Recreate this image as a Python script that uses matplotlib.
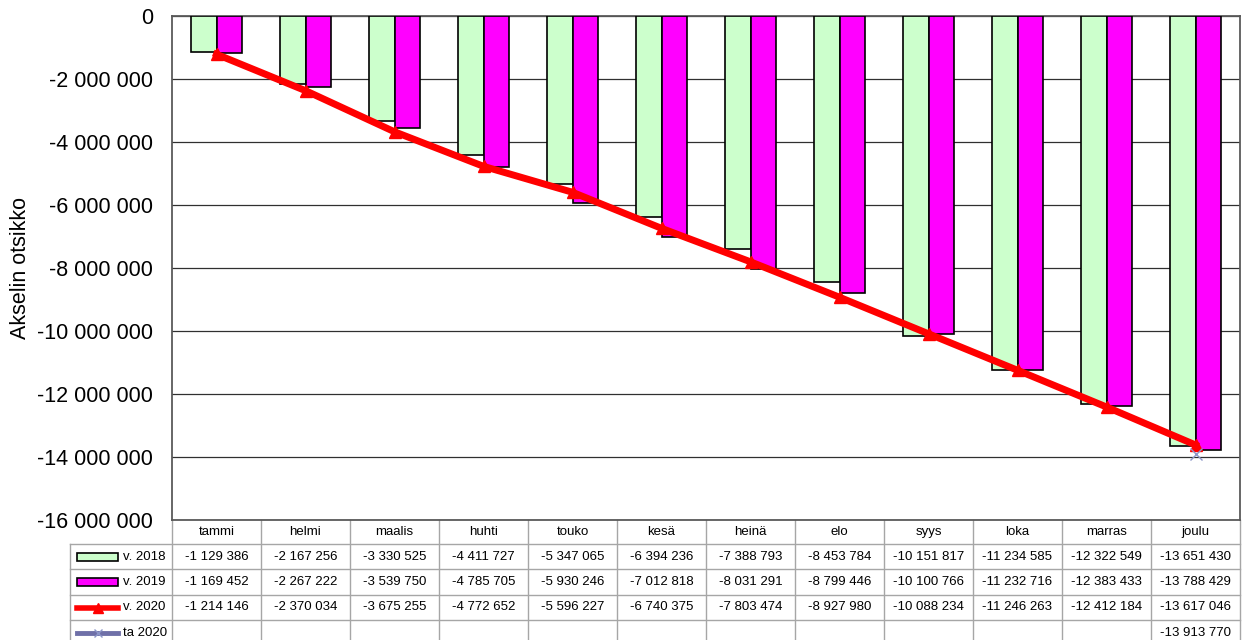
import matplotlib
matplotlib.use("Agg")
import matplotlib.pyplot as plt
from matplotlib.patches import Rectangle
from matplotlib.lines import Line2D
from matplotlib.ticker import FuncFormatter
import numpy as np

plt.rcParams['font.family'] = ['Liberation Sans', 'DejaVu Sans']

months = ["tammi", "helmi", "maalis", "huhti", "touko", "kesä", "heinä",
          "elo", "syys", "loka", "marras", "joulu"]
v2018 = [-1129386, -2167256, -3330525, -4411727, -5347065, -6394236,
         -7388793, -8453784, -10151817, -11234585, -12322549, -13651430]
v2019 = [-1169452, -2267222, -3539750, -4785705, -5930246, -7012818,
         -8031291, -8799446, -10100766, -11232716, -12383433, -13788429]
v2020 = [-1214146, -2370034, -3675255, -4772652, -5596227, -6740375,
         -7803474, -8927980, -10088234, -11246263, -12412184, -13617046]
ta2020 = [None] * 11 + [-13913770]
series_names = ["v. 2018", "v. 2019", "v. 2020", "ta 2020"]
y_ticks = list(range(0, -16000001, -2000000))
y_label = "Akselin otsikko"

W, H = 1242, 640
fig = plt.figure(figsize=(W / 100, H / 100), dpi=100)
L, R, T, B = 172, 1240, 16, 520
ax = fig.add_axes([L / W, 1 - B / H, (R - L) / W, (B - T) / H])

def pxx(p):
    return (p - L) / (R - L)

def pxy(p):
    return (B - p) / (B - T)

x = np.arange(len(months))
bw = 0.29
ax.bar(x - bw / 2, v2018, width=bw, color="#ccffcc", edgecolor="black",
       linewidth=1.2, zorder=3)
ax.bar(x + bw / 2, v2019, width=bw, color="#ff00ff", edgecolor="black",
       linewidth=1.2, zorder=3)
ax.plot(x, v2020, color="#ff0000", linewidth=5, marker="^", markersize=9,
        zorder=5)
ta_x = [i for i, v in enumerate(ta2020) if v is not None]
ta_y = [v for v in ta2020 if v is not None]
ax.plot(ta_x, ta_y, linestyle="none", marker="x", markersize=8,
        color="#8c96c8", markeredgewidth=1.0, zorder=6)

ax.set_xlim(-0.5, len(months) - 0.5)
ax.set_ylim(-16000000, 0)
ax.set_yticks(y_ticks)
ax.yaxis.set_major_formatter(FuncFormatter(
    lambda v, p: f"{int(v):,}".replace(",", " ")))
ax.set_xticks([])
ax.tick_params(axis="y", length=0, pad=13.5, labelsize=15.5)
ax.grid(axis="y", color="#303030", linewidth=0.9, zorder=0)
for s in ax.spines.values():
    s.set_color("#5a5a5a")
    s.set_linewidth(1.3)

ax.text(pxx(21), 0.5, y_label, rotation=90, ha="center", va="center",
        fontsize=15.5, transform=ax.transAxes)

# data table
tcol = "#a6a6a6"
fs = 9.5
rows_y = [520, 544, 569, 595, 620, 646]
leg_left = 70
tr = ax.transAxes
for yy in rows_y[1:]:
    ax.add_line(Line2D([pxx(leg_left), 1], [pxy(yy), pxy(yy)], color=tcol,
                       linewidth=1, transform=tr, clip_on=False))
for i in range(len(months) + 1):
    xx = i / len(months)
    ax.add_line(Line2D([xx, xx], [pxy(rows_y[0]), pxy(rows_y[-1])],
                       color=tcol, linewidth=1, transform=tr, clip_on=False))
ax.add_line(Line2D([pxx(leg_left)] * 2, [pxy(rows_y[1]), pxy(rows_y[-1])],
                   color=tcol, linewidth=1, transform=tr, clip_on=False))

for i, m in enumerate(months):
    cx = (i + 0.5) / len(months)
    ax.text(cx, pxy((rows_y[0] + rows_y[1]) / 2), m, ha="center",
            va="center", fontsize=fs, transform=tr)
    for r, ser in enumerate([v2018, v2019, v2020, ta2020]):
        v = ser[i]
        if v is None:
            continue
        ax.text(cx, pxy((rows_y[r + 1] + rows_y[r + 2]) / 2),
                f"{v:,}".replace(",", " "), ha="center", va="center",
                fontsize=fs, transform=tr)

# legend keys
for r, name in enumerate(series_names):
    yc = (rows_y[r + 1] + rows_y[r + 2]) / 2
    ax.text(pxx(123), pxy(yc), name, ha="left", va="center", fontsize=fs,
            transform=tr)
    if r < 2:
        fc = "#ccffcc" if r == 0 else "#ff00ff"
        ax.add_patch(Rectangle((pxx(77), pxy(yc + 4)), pxx(118) - pxx(77),
                               pxy(yc - 4) - pxy(yc + 4), facecolor=fc,
                               edgecolor="black", linewidth=1.2,
                               transform=tr, clip_on=False))
    elif r == 2:
        ax.add_line(Line2D([pxx(77), pxx(118)], [pxy(yc), pxy(yc)],
                           color="#ff0000", linewidth=4, transform=tr,
                           clip_on=False))
        ax.add_line(Line2D([pxx(97.5)], [pxy(yc)], marker="^", markersize=7,
                           color="#ff0000", transform=tr, clip_on=False))
    else:
        ax.add_line(Line2D([pxx(77), pxx(118)], [pxy(yc), pxy(yc)],
                           color="#6f70a8", linewidth=3.5, transform=tr,
                           clip_on=False))
        ax.add_line(Line2D([pxx(97.5)], [pxy(yc)], marker="x", markersize=6,
                           color="#8c96c8", transform=tr, clip_on=False))

fig.savefig("out.png", dpi=100)
